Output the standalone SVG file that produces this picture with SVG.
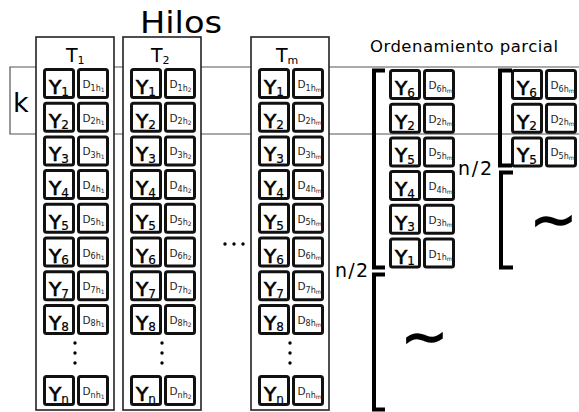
<svg xmlns="http://www.w3.org/2000/svg" xmlns:xlink="http://www.w3.org/1999/xlink" width="579" height="412" viewBox="0 0 579 412">
  <style>
    text { font-family: "DejaVu Sans", Verdana, sans-serif; fill: #000; }
    .col { fill: #fff; stroke: #222; stroke-width: 1.6; }
    .band { fill: none; stroke: #555; stroke-width: 1.2; }
    .cell { fill: #fff; stroke: #111; stroke-width: 3; }
    .y { font-size: 20px; stroke: #000; stroke-width: 0.7; }
    .ys { font-size: 12px; stroke-width: 0.2; }
    .d { font-size: 10.5px; fill: #222; }
    .ds { font-size: 8px; }
    .dss { font-size: 6px; }
    .tl { font-size: 19px; }
    .tls { font-size: 11px; }
    .brk { fill: none; stroke: #000; stroke-width: 4; stroke-linecap: butt; }
    .dot { fill: #000; }
    .tilde { font-size: 56px; stroke: #000; stroke-width: 1.6; }
  </style>
  <defs>
    <!-- one key/data pair: value box and distance box -->
    <g id="pair">
      <rect class="cell" x="1.5" y="1.5" width="29" height="28" rx="2"/>
      <rect class="cell" x="35.5" y="1.5" width="29" height="28" rx="2"/>
    </g>
  </defs>

  <!-- titles -->
  <text x="140" y="33" font-size="31" textLength="82" lengthAdjust="spacingAndGlyphs">Hilos</text>
  <text x="370" y="52" font-size="16.5" textLength="188" lengthAdjust="spacing">Ordenamiento parcial</text>

  <!-- k band -->
  <g id="k-band">
    <path class="band" d="M579 67 H10 V134 H579"/>
    <text x="13" y="112" font-size="27">k</text>
  </g>

  <!-- thread T1 -->
  <g id="thread-1">
    <rect class="col" x="36" y="37" width="78" height="373"/>
    <text class="tl" x="66" y="62">T<tspan class="tls" dy="2">1</tspan></text>
    <g transform="translate(43,68)"><use xlink:href="#pair"/><text class="y" x="6" y="26">Y<tspan class="ys" dy="1.5">1</tspan></text><text class="d" x="39.5" y="20">D<tspan class="ds" dy="2.5">1h</tspan><tspan class="dss" dy="1">1</tspan></text></g>
    <g transform="translate(43,101.7)"><use xlink:href="#pair"/><text class="y" x="6" y="26">Y<tspan class="ys" dy="1.5">2</tspan></text><text class="d" x="39.5" y="20">D<tspan class="ds" dy="2.5">2h</tspan><tspan class="dss" dy="1">1</tspan></text></g>
    <g transform="translate(43,135.4)"><use xlink:href="#pair"/><text class="y" x="6" y="26">Y<tspan class="ys" dy="1.5">3</tspan></text><text class="d" x="39.5" y="20">D<tspan class="ds" dy="2.5">3h</tspan><tspan class="dss" dy="1">1</tspan></text></g>
    <g transform="translate(43,169.1)"><use xlink:href="#pair"/><text class="y" x="6" y="26">Y<tspan class="ys" dy="1.5">4</tspan></text><text class="d" x="39.5" y="20">D<tspan class="ds" dy="2.5">4h</tspan><tspan class="dss" dy="1">1</tspan></text></g>
    <g transform="translate(43,202.8)"><use xlink:href="#pair"/><text class="y" x="6" y="26">Y<tspan class="ys" dy="1.5">5</tspan></text><text class="d" x="39.5" y="20">D<tspan class="ds" dy="2.5">5h</tspan><tspan class="dss" dy="1">1</tspan></text></g>
    <g transform="translate(43,236.5)"><use xlink:href="#pair"/><text class="y" x="6" y="26">Y<tspan class="ys" dy="1.5">6</tspan></text><text class="d" x="39.5" y="20">D<tspan class="ds" dy="2.5">6h</tspan><tspan class="dss" dy="1">1</tspan></text></g>
    <g transform="translate(43,270.2)"><use xlink:href="#pair"/><text class="y" x="6" y="26">Y<tspan class="ys" dy="1.5">7</tspan></text><text class="d" x="39.5" y="20">D<tspan class="ds" dy="2.5">7h</tspan><tspan class="dss" dy="1">1</tspan></text></g>
    <g transform="translate(43,303.9)"><use xlink:href="#pair"/><text class="y" x="6" y="26">Y<tspan class="ys" dy="1.5">8</tspan></text><text class="d" x="39.5" y="20">D<tspan class="ds" dy="2.5">8h</tspan><tspan class="dss" dy="1">1</tspan></text></g>
    <circle class="dot" cx="75" cy="343" r="1.7"/><circle class="dot" cx="75" cy="353" r="1.7"/><circle class="dot" cx="75" cy="363" r="1.7"/>
    <g transform="translate(43,375)"><use xlink:href="#pair"/><text class="y" x="6" y="26">Y<tspan class="ys" dy="1.5">n</tspan></text><text class="d" x="39.5" y="20">D<tspan class="ds" dy="2.5">nh</tspan><tspan class="dss" dy="1">1</tspan></text></g>
  </g>

  <!-- thread T2 -->
  <g id="thread-2">
    <rect class="col" x="123" y="37" width="78" height="373"/>
    <text class="tl" x="151" y="62">T<tspan class="tls" dy="2">2</tspan></text>
    <g transform="translate(130,68)"><use xlink:href="#pair"/><text class="y" x="6" y="26">Y<tspan class="ys" dy="1.5">1</tspan></text><text class="d" x="39.5" y="20">D<tspan class="ds" dy="2.5">1h</tspan><tspan class="dss" dy="1">2</tspan></text></g>
    <g transform="translate(130,101.7)"><use xlink:href="#pair"/><text class="y" x="6" y="26">Y<tspan class="ys" dy="1.5">2</tspan></text><text class="d" x="39.5" y="20">D<tspan class="ds" dy="2.5">2h</tspan><tspan class="dss" dy="1">2</tspan></text></g>
    <g transform="translate(130,135.4)"><use xlink:href="#pair"/><text class="y" x="6" y="26">Y<tspan class="ys" dy="1.5">3</tspan></text><text class="d" x="39.5" y="20">D<tspan class="ds" dy="2.5">3h</tspan><tspan class="dss" dy="1">2</tspan></text></g>
    <g transform="translate(130,169.1)"><use xlink:href="#pair"/><text class="y" x="6" y="26">Y<tspan class="ys" dy="1.5">4</tspan></text><text class="d" x="39.5" y="20">D<tspan class="ds" dy="2.5">4h</tspan><tspan class="dss" dy="1">2</tspan></text></g>
    <g transform="translate(130,202.8)"><use xlink:href="#pair"/><text class="y" x="6" y="26">Y<tspan class="ys" dy="1.5">5</tspan></text><text class="d" x="39.5" y="20">D<tspan class="ds" dy="2.5">5h</tspan><tspan class="dss" dy="1">2</tspan></text></g>
    <g transform="translate(130,236.5)"><use xlink:href="#pair"/><text class="y" x="6" y="26">Y<tspan class="ys" dy="1.5">6</tspan></text><text class="d" x="39.5" y="20">D<tspan class="ds" dy="2.5">6h</tspan><tspan class="dss" dy="1">2</tspan></text></g>
    <g transform="translate(130,270.2)"><use xlink:href="#pair"/><text class="y" x="6" y="26">Y<tspan class="ys" dy="1.5">7</tspan></text><text class="d" x="39.5" y="20">D<tspan class="ds" dy="2.5">7h</tspan><tspan class="dss" dy="1">2</tspan></text></g>
    <g transform="translate(130,303.9)"><use xlink:href="#pair"/><text class="y" x="6" y="26">Y<tspan class="ys" dy="1.5">8</tspan></text><text class="d" x="39.5" y="20">D<tspan class="ds" dy="2.5">8h</tspan><tspan class="dss" dy="1">2</tspan></text></g>
    <circle class="dot" cx="162" cy="343" r="1.7"/><circle class="dot" cx="162" cy="353" r="1.7"/><circle class="dot" cx="162" cy="363" r="1.7"/>
    <g transform="translate(130,375)"><use xlink:href="#pair"/><text class="y" x="6" y="26">Y<tspan class="ys" dy="1.5">n</tspan></text><text class="d" x="39.5" y="20">D<tspan class="ds" dy="2.5">nh</tspan><tspan class="dss" dy="1">2</tspan></text></g>
  </g>

  <!-- ellipsis between threads -->
  <g id="more-threads">
    <circle class="dot" cx="225" cy="244" r="1.7"/><circle class="dot" cx="234" cy="244" r="1.7"/><circle class="dot" cx="243" cy="244" r="1.7"/>
  </g>

  <!-- thread Tm -->
  <g id="thread-m">
    <rect class="col" x="251" y="37" width="78" height="373"/>
    <text class="tl" x="276" y="62">T<tspan class="tls" dy="2">m</tspan></text>
    <g transform="translate(258,68)"><use xlink:href="#pair"/><text class="y" x="6" y="26">Y<tspan class="ys" dy="1.5">1</tspan></text><text class="d" x="39.5" y="20">D<tspan class="ds" dy="2.5">1h</tspan><tspan class="dss" dy="1">m</tspan></text></g>
    <g transform="translate(258,101.7)"><use xlink:href="#pair"/><text class="y" x="6" y="26">Y<tspan class="ys" dy="1.5">2</tspan></text><text class="d" x="39.5" y="20">D<tspan class="ds" dy="2.5">2h</tspan><tspan class="dss" dy="1">m</tspan></text></g>
    <g transform="translate(258,135.4)"><use xlink:href="#pair"/><text class="y" x="6" y="26">Y<tspan class="ys" dy="1.5">3</tspan></text><text class="d" x="39.5" y="20">D<tspan class="ds" dy="2.5">3h</tspan><tspan class="dss" dy="1">m</tspan></text></g>
    <g transform="translate(258,169.1)"><use xlink:href="#pair"/><text class="y" x="6" y="26">Y<tspan class="ys" dy="1.5">4</tspan></text><text class="d" x="39.5" y="20">D<tspan class="ds" dy="2.5">4h</tspan><tspan class="dss" dy="1">m</tspan></text></g>
    <g transform="translate(258,202.8)"><use xlink:href="#pair"/><text class="y" x="6" y="26">Y<tspan class="ys" dy="1.5">5</tspan></text><text class="d" x="39.5" y="20">D<tspan class="ds" dy="2.5">5h</tspan><tspan class="dss" dy="1">m</tspan></text></g>
    <g transform="translate(258,236.5)"><use xlink:href="#pair"/><text class="y" x="6" y="26">Y<tspan class="ys" dy="1.5">6</tspan></text><text class="d" x="39.5" y="20">D<tspan class="ds" dy="2.5">6h</tspan><tspan class="dss" dy="1">m</tspan></text></g>
    <g transform="translate(258,270.2)"><use xlink:href="#pair"/><text class="y" x="6" y="26">Y<tspan class="ys" dy="1.5">7</tspan></text><text class="d" x="39.5" y="20">D<tspan class="ds" dy="2.5">7h</tspan><tspan class="dss" dy="1">m</tspan></text></g>
    <g transform="translate(258,303.9)"><use xlink:href="#pair"/><text class="y" x="6" y="26">Y<tspan class="ys" dy="1.5">8</tspan></text><text class="d" x="39.5" y="20">D<tspan class="ds" dy="2.5">8h</tspan><tspan class="dss" dy="1">m</tspan></text></g>
    <circle class="dot" cx="290" cy="343" r="1.7"/><circle class="dot" cx="290" cy="353" r="1.7"/><circle class="dot" cx="290" cy="363" r="1.7"/>
    <g transform="translate(258,375)"><use xlink:href="#pair"/><text class="y" x="6" y="26">Y<tspan class="ys" dy="1.5">n</tspan></text><text class="d" x="39.5" y="20">D<tspan class="ds" dy="2.5">nh</tspan><tspan class="dss" dy="1">m</tspan></text></g>
  </g>

  <!-- partial sort, first pass: n/2 smallest, then the rest -->
  <g id="partial-1">
    <g transform="translate(389,69)"><use xlink:href="#pair"/><text class="y" x="6" y="26">Y<tspan class="ys" dy="1.5">6</tspan></text><text class="d" x="39.5" y="20">D<tspan class="ds" dy="2.5">6h</tspan><tspan class="dss" dy="1">m</tspan></text></g>
    <g transform="translate(389,102.7)"><use xlink:href="#pair"/><text class="y" x="6" y="26">Y<tspan class="ys" dy="1.5">2</tspan></text><text class="d" x="39.5" y="20">D<tspan class="ds" dy="2.5">2h</tspan><tspan class="dss" dy="1">m</tspan></text></g>
    <g transform="translate(389,136.4)"><use xlink:href="#pair"/><text class="y" x="6" y="26">Y<tspan class="ys" dy="1.5">5</tspan></text><text class="d" x="39.5" y="20">D<tspan class="ds" dy="2.5">5h</tspan><tspan class="dss" dy="1">m</tspan></text></g>
    <g transform="translate(389,170.1)"><use xlink:href="#pair"/><text class="y" x="6" y="26">Y<tspan class="ys" dy="1.5">4</tspan></text><text class="d" x="39.5" y="20">D<tspan class="ds" dy="2.5">4h</tspan><tspan class="dss" dy="1">m</tspan></text></g>
    <g transform="translate(389,203.8)"><use xlink:href="#pair"/><text class="y" x="6" y="26">Y<tspan class="ys" dy="1.5">3</tspan></text><text class="d" x="39.5" y="20">D<tspan class="ds" dy="2.5">3h</tspan><tspan class="dss" dy="1">m</tspan></text></g>
    <g transform="translate(389,237.5)"><use xlink:href="#pair"/><text class="y" x="6" y="26">Y<tspan class="ys" dy="1.5">1</tspan></text><text class="d" x="39.5" y="20">D<tspan class="ds" dy="2.5">1h</tspan><tspan class="dss" dy="1">m</tspan></text></g>
    <text x="335" y="277" font-size="19" textLength="33" lengthAdjust="spacing">n/2</text>
    <text class="tilde" x="401" y="355">~</text>
  </g>

  <!-- partial sort, second pass -->
  <g id="partial-2">
    <g transform="translate(511,69)"><use xlink:href="#pair"/><text class="y" x="6" y="26">Y<tspan class="ys" dy="1.5">6</tspan></text><text class="d" x="39.5" y="20">D<tspan class="ds" dy="2.5">6h</tspan><tspan class="dss" dy="1">m</tspan></text></g>
    <g transform="translate(511,102.7)"><use xlink:href="#pair"/><text class="y" x="6" y="26">Y<tspan class="ys" dy="1.5">2</tspan></text><text class="d" x="39.5" y="20">D<tspan class="ds" dy="2.5">2h</tspan><tspan class="dss" dy="1">m</tspan></text></g>
    <g transform="translate(511,136.4)"><use xlink:href="#pair"/><text class="y" x="6" y="26">Y<tspan class="ys" dy="1.5">5</tspan></text><text class="d" x="39.5" y="20">D<tspan class="ds" dy="2.5">5h</tspan><tspan class="dss" dy="1">m</tspan></text></g>
    <text x="458" y="175" font-size="19" textLength="34" lengthAdjust="spacing">n/2</text>
    <text class="tilde" x="530" y="238">~</text>
  </g>

  <!-- grouping brackets -->
  <g id="brackets">
    <path class="brk" d="M385 70.5 H374 V267.5 H385"/>
    <path class="brk" d="M385 274.5 H374 V409.5 H385"/>
    <path class="brk" d="M512 70.5 H500 V165.5 H512"/>
    <path class="brk" d="M513 172.5 H501 V267.5 H513"/>
  </g>
</svg>
